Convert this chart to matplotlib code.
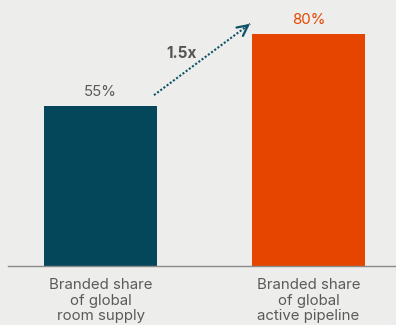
import matplotlib.pyplot as plt

categories = ['Branded share\nof global\nroom supply', 'Branded share\nof global\nactive pipeline']
values = [55, 80]
value_labels = ['55%', '80%']
bar_colors = ['#04475a', '#e64500']
label_colors = ['#5a5a5a', '#e64500']
growth_label = '1.5x'

plt.rcParams['font.family'] = ['Inter', 'DejaVu Sans']
bg = '#edeeeb'

fig = plt.figure(figsize=(3.96, 3.25), dpi=100, facecolor=bg)
ax = fig.add_axes([8 / 396, 59 / 325, 388 / 396, 266 / 325], facecolor=bg)

x = list(range(len(values)))
ax.bar(x, values, width=0.543, color=bar_colors)
ax.set_xlim(-0.445, 1.421)
ax.set_ylim(0, 91.7)

for xi, v, lab, c in zip(x, values, value_labels, label_colors):
    ax.text(xi, v + 2.5, lab, ha='center', va='bottom', fontsize=10.8, color=c)

for xi, cat in zip(x, categories):
    ax.text(xi, -4.3, cat, ha='center', va='top', fontsize=10.8, color='#5a5a5a',
            linespacing=1.12)

# dotted growth arrow
x0, y0 = 0.257, 58.9
x1, y1 = 0.719, 83.5
ax.plot([x0, x1], [y0, y1], linestyle=(0, (1, 0.9)), color='#0d5268', lw=1.5)
ax.annotate('', xy=(x1, y1), xytext=(x1 - 0.02, y1 - 1.1),
            arrowprops=dict(arrowstyle='->', color='#0d5268', lw=1.6,
                            mutation_scale=19, shrinkA=0, shrinkB=0))
ax.text(0.39, 73.3, growth_label, ha='center', va='center', fontsize=11,
        fontweight='bold', color='#555555')

for s in ['top', 'right', 'left']:
    ax.spines[s].set_visible(False)
ax.spines['bottom'].set_color('#8a8a8a')
ax.spines['bottom'].set_linewidth(1.0)
ax.set_xticks([])
ax.set_yticks([])

fig.savefig('out.png', dpi=100, facecolor=bg)
